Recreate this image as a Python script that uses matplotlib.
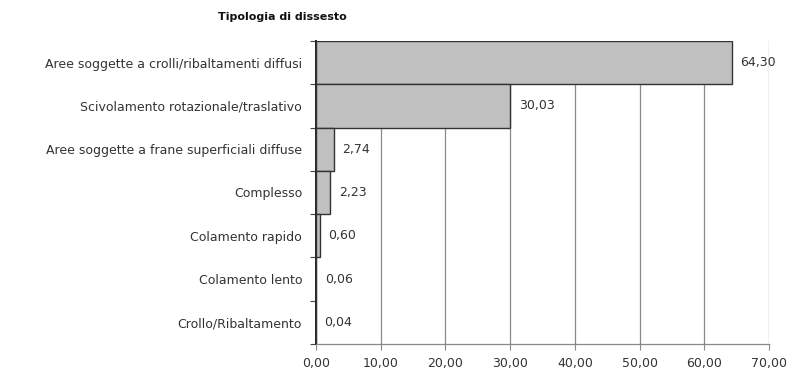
import matplotlib
matplotlib.use("Agg")
import matplotlib.pyplot as plt
import numpy as np

plt.rcParams['font.family'] = ['DejaVu Sans']

categories = [
    "Aree soggette a crolli/ribaltamenti diffusi",
    "Scivolamento rotazionale/traslativo",
    "Aree soggette a frane superficiali diffuse",
    "Complesso",
    "Colamento rapido",
    "Colamento lento",
    "Crollo/Ribaltamento",
]
values = [64.30, 30.03, 2.74, 2.23, 0.60, 0.06, 0.04]
x_ticks = [0, 10, 20, 30, 40, 50, 60, 70]
title = "Tipologia di dissesto"

fig = plt.figure(figsize=(7.91, 3.74), dpi=100)
ax = fig.add_axes([316 / 791, 1 - 344 / 374, (769 - 316) / 791, (344 - 41) / 374])

n = len(categories)
ypos = np.arange(n)[::-1]  # first category on top

ax.barh(ypos, values, height=1.0, color="#c0c0c0", edgecolor="#333333", linewidth=1.0, zorder=3)

fs = 9
for y, v in zip(ypos, values):
    ax.annotate(f"{v:.2f}".replace(".", ","), xy=(v, y), xytext=(6, 0),
                textcoords="offset points", ha="left", va="center",
                fontsize=fs, color="#333333", zorder=4)

ax.set_xlim(0, 70)
ax.set_ylim(-0.5, n - 0.5)
ax.set_xticks(x_ticks)
ax.set_xticklabels([f"{t:.2f}".replace(".", ",") for t in x_ticks], fontsize=fs, color="#333333")

# category labels at bar centres, tick marks at category boundaries
ax.set_yticks(np.arange(-0.5, n, 1.0))
ax.set_yticklabels([])
ax.set_yticks(ypos, minor=True)
ax.set_yticklabels(categories, minor=True, fontsize=fs, color="#333333")
ax.tick_params(axis="y", which="minor", length=0, pad=10)
ax.tick_params(axis="y", which="major", length=4, width=0.8, color="#444444", direction="out")
ax.tick_params(axis="x", length=4, width=0.8, color="#888888", direction="out", pad=5)

ax.grid(axis="x", color="#888888", linewidth=0.9, zorder=0)
ax.set_axisbelow(True)
for s in ["top", "right"]:
    ax.spines[s].set_visible(False)
ax.spines["left"].set_color("#222222")
ax.spines["left"].set_linewidth(1.4)
ax.spines["bottom"].set_color("#888888")
ax.spines["bottom"].set_linewidth(0.9)

fig.text(282 / 791, 1 - 17 / 374, title, ha="center", va="center", fontsize=8, fontweight="bold", color="#111111")

fig.savefig("out.png", dpi=100)
